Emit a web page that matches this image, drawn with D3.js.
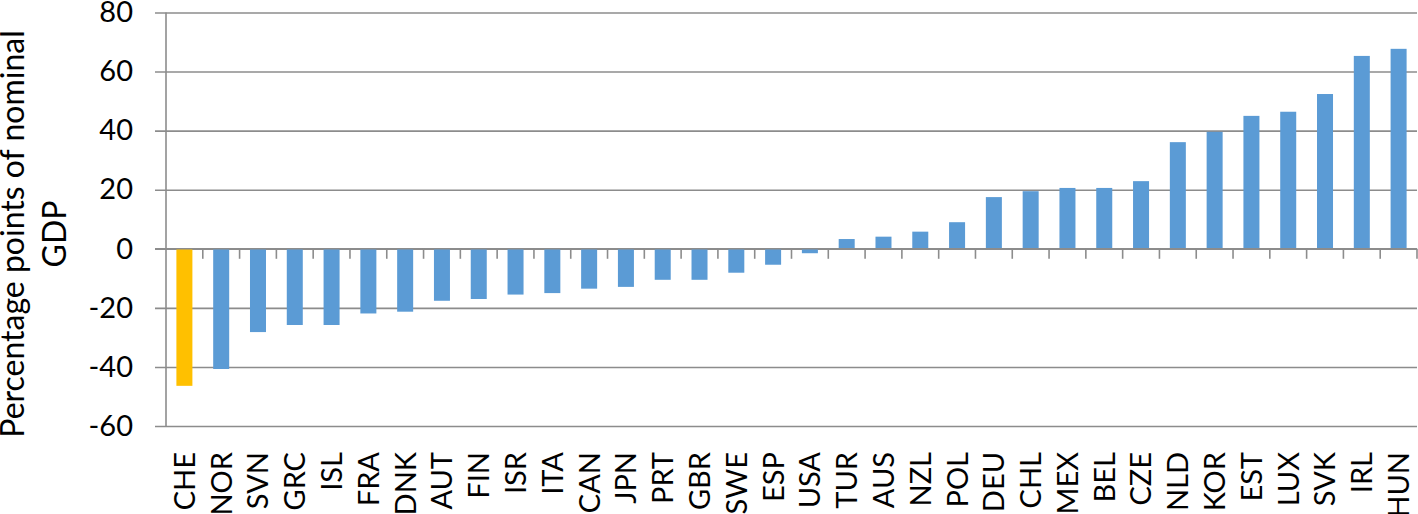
<!DOCTYPE html>
<html>
<head>
<meta charset="utf-8">
<script src="https://cdn.jsdelivr.net/npm/d3@7"></script>
<style>
  body { margin: 0; background: #fff; }
  text { font-family: Lato, "Open Sans", sans-serif; fill: #000; }
</style>
</head>
<body>
<div id="chart"></div>
<script>
const countries = ["CHE","NOR","SVN","GRC","ISL","FRA","DNK","AUT","FIN","ISR","ITA","CAN","JPN","PRT","GBR","SWE","ESP","USA",
                   "TUR","AUS","NZL","POL","DEU","CHL","MEX","BEL","CZE","NLD","KOR","EST","LUX","SVK","IRL","HUN"];
const values = [-46.4,-40.7,-28.2,-25.8,-25.8,-21.9,-21.3,-17.6,-17.0,-15.5,-15.0,-13.5,-12.9,-10.5,-10.5,-8.1,-5.4,-1.5,
                3.3,4.1,5.8,9.0,17.5,19.5,20.6,20.6,22.9,36.1,39.6,45.0,46.4,52.4,65.3,67.7];
const highlighted = ["CHE"];
const yTicks = [-60,-40,-20,0,20,40,60,80];

const width = 1418;
const height = 514;
const svg = d3.select("#chart")
    .append("svg")
    .attr("width", width)
    .attr("height", height);

const data = countries.map((c, i) => ({ country: c, value: values[i] }));

const xScale = d3.scaleBand()
    .domain(countries)
    .range([166, 1417])
    .paddingInner(0.565)
    .paddingOuter(0.2825);

const yScale = d3.scaleLinear()
    .domain([-60, 80])
    .range([426, 12.5]);

// gridlines + y tick labels (plain hyphen for negatives, like the original)
const yAxis = d3.axisLeft(yScale)
    .tickValues(yTicks)
    .tickSize(-(1417 - 155))
    .tickFormat(d => String(d));

svg.append("g")
    .attr("class", "y axis")
    .attr("transform", "translate(155,0)")
    .call(yAxis)
    .call(g => g.select(".domain").remove())
    .call(g => g.selectAll("line").attr("stroke", "#8c8c8c").attr("stroke-width", 1.6))
    .call(g => g.selectAll("text")
        .attr("x", -22)
        .style("font-size", "29px")
        .style("font-family", "Lato, sans-serif"));

// vertical axis line
svg.append("line")
    .attr("x1", 166).attr("x2", 166)
    .attr("y1", yScale(80)).attr("y2", yScale(-60))
    .attr("stroke", "#8c8c8c")
    .attr("stroke-width", 1.6);

// bars
svg.selectAll(".bar")
    .data(data)
    .enter()
    .append("rect")
    .attr("class", "bar")
    .attr("x", d => xScale(d.country))
    .attr("width", xScale.bandwidth())
    .attr("y", d => yScale(Math.max(0, d.value)))
    .attr("height", d => Math.abs(yScale(d.value) - yScale(0)))
    .style("fill", d => highlighted.includes(d.country) ? "#FFC000" : "#5B9BD5");

// zero axis with ticks between categories
const zeroY = yScale(0);
svg.append("line")
    .attr("x1", 155).attr("x2", 1417)
    .attr("y1", zeroY).attr("y2", zeroY)
    .attr("stroke", "#8c8c8c")
    .attr("stroke-width", 1.6);

const step = xScale.step();
const boundaries = d3.range(1, countries.length + 1).map(i => xScale.range()[0] + i * step);
svg.selectAll(".xtick")
    .data(boundaries)
    .enter()
    .append("line")
    .attr("class", "xtick")
    .attr("x1", d => d).attr("x2", d => d)
    .attr("y1", zeroY).attr("y2", zeroY + 10)
    .attr("stroke", "#8c8c8c")
    .attr("stroke-width", 1.6);

// category labels
svg.selectAll(".xlabel")
    .data(countries)
    .enter()
    .append("text")
    .attr("class", "xlabel")
    .attr("transform", d => `translate(${xScale(d) + xScale.bandwidth() / 2}, 452) rotate(-90)`)
    .attr("dy", "0.36em")
    .style("text-anchor", "end")
    .style("font-size", "29px")
    .text(d => d);

// y axis title
const title = svg.append("text")
    .attr("transform", "translate(0, 234) rotate(-90)")
    .style("text-anchor", "middle")
    .style("font-size", "32px");
title.append("tspan").attr("x", 0).attr("dy", "0.75em").text("Percentage points of nominal");
title.append("tspan").attr("x", 0).attr("dy", "1.3em").text("GDP");
</script>
</body>
</html>
